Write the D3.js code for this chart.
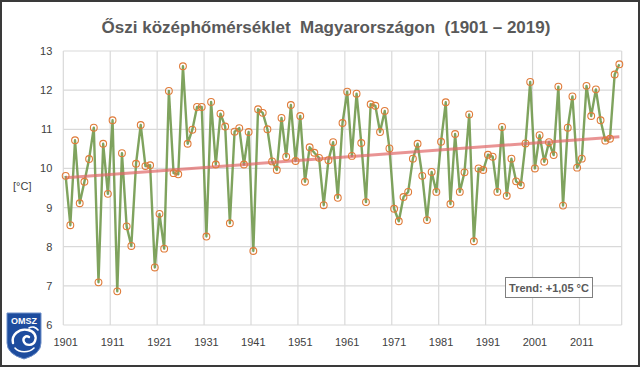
<!DOCTYPE html>
<html>
<head>
<meta charset="utf-8">
<script src="https://cdn.jsdelivr.net/npm/d3@7"></script>
<style>
  html, body { margin: 0; padding: 0; background: #fff; }
  svg { display: block; font-family: "Liberation Sans", Arial, sans-serif; }
</style>
</head>
<body>
<svg id="chart" width="640" height="367"></svg>
<script>
// autumn mean temperature, Hungary, 1901-2019 (°C)
const years = d3.range(1901, 2020);
const temps = [
    9.81, 8.55, 10.72, 9.11, 9.66, 10.24, 11.04, 7.09, 10.63, 9.35,
    11.23, 6.86, 10.39, 8.52, 8.02, 10.12, 11.11, 10.06, 10.08, 7.47,
    8.84, 7.95, 11.98, 9.88, 9.85, 12.61, 10.63, 10.99, 11.57, 11.57,
    8.26, 11.70, 10.10, 11.40, 11.07, 8.60, 10.94, 11.03, 10.10, 10.93,
    7.89, 11.51, 11.42, 11.00, 10.18, 9.96, 11.29, 10.30, 11.62, 10.19,
    11.34, 9.66, 10.54, 10.40, 10.27, 9.06, 10.21, 10.67, 9.25, 11.16,
    11.96, 10.32, 11.91, 10.65, 9.14, 11.64, 11.60, 10.93, 11.47, 10.51,
    8.97, 8.65, 9.27, 9.40, 10.25, 10.63, 9.81, 8.68, 9.91, 9.40,
    10.68, 11.69, 9.09, 10.88, 9.40, 9.90, 11.38, 8.14, 10.00, 9.96,
    10.35, 10.30, 9.40, 11.06, 9.30, 10.25, 9.67, 9.57, 10.64, 12.21,
    10.00, 10.85, 10.17, 10.67, 10.34, 12.09, 9.05, 11.04, 11.84, 10.02,
    10.25, 12.11, 11.34, 12.02, 11.23, 10.71, 10.76, 12.40, 12.66
];
// linear trend end points
const trendYears = [1901, 2019];
const trendValues = [9.76, 10.81];
const yTicks = [6, 7, 8, 9, 10, 11, 12, 13];
const xTickYears = d3.range(1901, 2020, 10);
const titleText = "Őszi középhőmérséklet  Magyarországon  (1901 – 2019)";
const trendLabel = "Trend: +1,05 °C";

const svg = d3.select("#chart");
const width = 640, height = 367;

// plot area
const plot = { left: 63.3, right: 621.7, top: 51, bottom: 325 };

const x = d3.scaleBand().domain(years).range([plot.left, plot.right]);
const y = d3.scaleLinear().domain([6, 13]).range([plot.bottom, plot.top]);
const cx = yr => x(yr) + x.bandwidth() / 2;

// outer frame
svg.append("rect")
    .attr("x", 1).attr("y", 1)
    .attr("width", width - 2).attr("height", height - 2)
    .attr("fill", "#fff")
    .attr("stroke", "#3a3a3a")
    .attr("stroke-width", 2);

// title (keep the double spaces)
svg.append("text")
    .attr("x", 326)
    .attr("y", 33)
    .attr("text-anchor", "middle")
    .attr("fill", "#595959")
    .attr("xml:space", "preserve")
    .style("white-space", "pre")
    .style("font-size", "17px")
    .style("font-weight", "bold")
    .text(titleText);

// horizontal grid
svg.append("g")
    .selectAll("line")
    .data(yTicks)
    .join("line")
    .attr("x1", plot.left).attr("x2", plot.right)
    .attr("y1", d => y(d)).attr("y2", d => y(d))
    .attr("stroke", "#d9d9d9")
    .attr("stroke-width", 1.2);

// vertical grid at category boundaries every 10 years, plus the right end
const vLines = xTickYears.map(yr => x(yr)).concat([plot.right]);
svg.append("g")
    .selectAll("line")
    .data(vLines)
    .join("line")
    .attr("x1", d => d).attr("x2", d => d)
    .attr("y1", plot.top).attr("y2", plot.bottom)
    .attr("stroke", "#d9d9d9")
    .attr("stroke-width", 1.2);

// y axis labels
const yAxis = svg.append("g")
    .attr("transform", `translate(${plot.left},0)`)
    .call(d3.axisLeft(y).tickValues(yTicks).tickFormat(d3.format("d")).tickSize(0).tickPadding(11));
yAxis.select(".domain").remove();
yAxis.selectAll("text")
    .attr("fill", "#404040")
    .style("font-size", "11px")
    .style("font-family", "Liberation Sans, Arial, sans-serif");

// x axis labels
const xAxis = svg.append("g")
    .attr("transform", `translate(0,${plot.bottom})`)
    .call(d3.axisBottom(x).tickValues(xTickYears).tickSize(0).tickPadding(13));
xAxis.select(".domain").remove();
xAxis.selectAll("text")
    .attr("fill", "#404040")
    .style("font-size", "11px")
    .style("font-family", "Liberation Sans, Arial, sans-serif");

// unit label
svg.append("text")
    .attr("x", 13)
    .attr("y", 190)
    .attr("fill", "#404040")
    .style("font-size", "11px")
    .text("[°C]");

// data line
const line = d3.line()
    .x((d, i) => cx(years[i]))
    .y(d => y(d));

svg.append("path")
    .datum(temps)
    .attr("d", line)
    .attr("fill", "none")
    .attr("stroke", "#71994c")
    .attr("stroke-opacity", 0.9)
    .attr("stroke-width", 2.4)
    .attr("stroke-linejoin", "round");

// trend line
svg.append("line")
    .attr("x1", cx(trendYears[0])).attr("y1", y(trendValues[0]))
    .attr("x2", cx(trendYears[1])).attr("y2", y(trendValues[1]))
    .attr("stroke", "#e06666")
    .attr("stroke-opacity", 0.7)
    .attr("stroke-width", 3);

// markers
svg.append("g")
    .selectAll("circle")
    .data(temps)
    .join("circle")
    .attr("cx", (d, i) => cx(years[i]))
    .attr("cy", d => y(d))
    .attr("r", 3.4)
    .attr("fill", "none")
    .attr("stroke", "#e07b39")
    .attr("stroke-width", 1.1);

// trend box
const box = svg.append("g").attr("transform", "translate(505.5,277.5)");
box.append("rect")
    .attr("width", 87).attr("height", 20)
    .attr("fill", "#fff")
    .attr("stroke", "#7f7f7f")
    .attr("stroke-width", 1);
box.append("text")
    .attr("x", 43.5).attr("y", 14)
    .attr("text-anchor", "middle")
    .attr("fill", "#595959")
    .style("font-size", "11px")
    .style("font-weight", "bold")
    .text(trendLabel);

// OMSZ logo
const logo = svg.append("g").attr("transform", "translate(7,313)");
logo.append("path")
    .attr("d", "M0,0 H34 V30 Q34,41 17,46 Q0,41 0,30 Z")
    .attr("fill", "#1d4c9e")
    .attr("stroke", "#6f8fc8")
    .attr("stroke-width", 1);
logo.append("text")
    .attr("x", 17).attr("y", 11)
    .attr("text-anchor", "middle")
    .attr("fill", "#fff")
    .style("font-size", "9px")
    .style("font-weight", "bold")
    .text("OMSZ");
// stylised wave
logo.append("path")
    .attr("d", "M6,30 C4,22 12,15 21,17 C27,18 30,23 28,28 C26,33 19,33 17,29 C15,25 19,22 22,24")
    .attr("fill", "none")
    .attr("stroke", "#fff")
    .attr("stroke-width", 2.4)
    .attr("stroke-linecap", "round");
logo.append("path")
    .attr("d", "M8,35 C12,40 22,40 27,35 M22,15 C25,13 29,14 31,17")
    .attr("fill", "none")
    .attr("stroke", "#fff")
    .attr("stroke-width", 1.6)
    .attr("stroke-linecap", "round");
</script>
</body>
</html>
